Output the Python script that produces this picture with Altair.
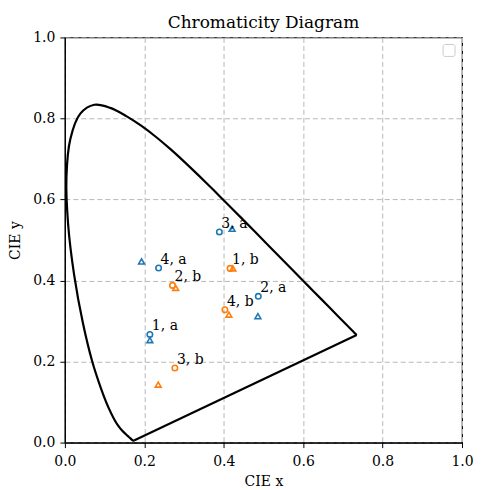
import altair as alt
import pandas as pd

# CIE 1931 spectral locus (380 nm ... 700 nm)
locus_x = [0.1741, 0.1738, 0.1733, 0.1726, 0.1714, 0.1689, 0.1644, 0.1566, 0.1440,
           0.1355, 0.1241, 0.1096, 0.0913, 0.0687, 0.0454, 0.0235, 0.0082, 0.0039,
           0.0139, 0.0389, 0.0743, 0.1142, 0.1547, 0.1929, 0.2296, 0.2658, 0.3016,
           0.3373, 0.3731, 0.4087, 0.4441, 0.4788, 0.5125, 0.5448, 0.5752, 0.6029,
           0.6270, 0.6658, 0.6915, 0.7079, 0.7190, 0.7260, 0.7300, 0.7334, 0.7347]
locus_y = [0.0050, 0.0049, 0.0048, 0.0048, 0.0051, 0.0069, 0.0109, 0.0177, 0.0297,
           0.0399, 0.0578, 0.0868, 0.1327, 0.2007, 0.2950, 0.4127, 0.5384, 0.6548,
           0.7502, 0.8120, 0.8338, 0.8262, 0.8059, 0.7816, 0.7543, 0.7243, 0.6923,
           0.6589, 0.6245, 0.5896, 0.5547, 0.5202, 0.4866, 0.4544, 0.4242, 0.3965,
           0.3725, 0.3340, 0.3083, 0.2920, 0.2809, 0.2740, 0.2700, 0.2666, 0.2653]
# purple line: 700 nm back to 380 nm
purple_x = [0.7347, 0.1741]
purple_y = [0.2653, 0.0050]

# series a (blue), series b (orange)
a_circle_x = [0.214, 0.487, 0.389, 0.236]
a_circle_y = [0.267, 0.361, 0.520, 0.431]
a_tri_x = [0.214, 0.486, 0.421, 0.193]
a_tri_y = [0.253, 0.312, 0.528, 0.447]
b_circle_x = [0.416, 0.271, 0.277, 0.403]
b_circle_y = [0.430, 0.388, 0.184, 0.328]
b_tri_x = [0.423, 0.279, 0.235, 0.413]
b_tri_y = [0.430, 0.382, 0.143, 0.316]
a_labels = ["1, a", "2, a", "3, a", "4, a"]
b_labels = ["1, b", "2, b", "3, b", "4, b"]
title_text = ["Chromaticity Diagram"]

ticks = [0.0, 0.2, 0.4, 0.6, 0.8, 1.0]
FONT = "DejaVu Serif"
BLUE = "#1f77b4"
ORANGE = "#ff7f0e"

locus = pd.DataFrame({"x": locus_x, "y": locus_y, "i": list(range(len(locus_x)))})
purple = pd.DataFrame({"x": purple_x, "y": purple_y, "i": [0, 1]})
circles = pd.DataFrame({
    "x": a_circle_x + b_circle_x,
    "y": a_circle_y + b_circle_y,
    "s": ["a"] * 4 + ["b"] * 4,
    "label": a_labels + b_labels,
})
tris = pd.DataFrame({
    "x": a_tri_x + b_tri_x,
    "y": a_tri_y + b_tri_y,
    "s": ["a"] * 4 + ["b"] * 4,
})

xs = alt.Scale(domain=[0, 1], nice=False, zero=False)
ys = alt.Scale(domain=[0, 1], nice=False, zero=False)
xax = alt.Axis(values=ticks, format=".1f", title="CIE x", labelPadding=7, titlePadding=6,
               labelFlush=False, labelOverlap=False)
yax = alt.Axis(values=ticks, format=".1f", title="CIE y", labelPadding=5, titlePadding=10,
               labelFlush=False, labelOverlap=False)
col = alt.Color("s:N", scale=alt.Scale(domain=["a", "b"], range=[BLUE, ORANGE]), legend=None)

line = alt.Chart(locus).mark_line(color="black", strokeWidth=2.2, interpolate="catmull-rom").encode(
    x=alt.X("x:Q", scale=xs, axis=xax),
    y=alt.Y("y:Q", scale=ys, axis=yax),
    order="i:Q",
)
pline = alt.Chart(purple).mark_line(color="black", strokeWidth=2.2).encode(
    x=alt.X("x:Q", scale=xs), y=alt.Y("y:Q", scale=ys), order="i:Q")

pts_c = alt.Chart(circles).mark_point(shape="circle", filled=False, size=30, strokeWidth=1.6, opacity=1).encode(
    x=alt.X("x:Q", scale=xs), y=alt.Y("y:Q", scale=ys), color=col)

pts_t = alt.Chart(tris).mark_point(shape="triangle-up", filled=False, size=34, strokeWidth=1.6, opacity=1).encode(
    x=alt.X("x:Q", scale=xs), y=alt.Y("y:Q", scale=ys), color=col)

labels = alt.Chart(circles).mark_text(
    font=FONT, fontSize=14, align="left", baseline="alphabetic", dx=2, dy=-4, color="black"
).encode(x=alt.X("x:Q", scale=xs), y=alt.Y("y:Q", scale=ys), text="label:N")

legend_box = alt.Chart(pd.DataFrame({"a": [0]})).mark_rect(
    fill="white", stroke="#cccccc", strokeWidth=1, cornerRadius=2
).encode(x=alt.value(379), x2=alt.value(391), y=alt.value(7), y2=alt.value(19))

title = alt.Chart(pd.DataFrame({"t": title_text})).mark_text(
    font=FONT, fontSize=17, align="center", baseline="alphabetic", color="black"
).encode(x=alt.value(199), y=alt.value(-9), text="t:N")

chart = alt.layer(line, pline, pts_c, pts_t, labels, legend_box, title).properties(
    width=398, height=406,
    autosize=alt.AutoSizeParams(type="none"),
    padding={"left": 57, "top": 29, "right": 13, "bottom": 46},
).configure_view(stroke="black", strokeWidth=1.2).configure_axis(
    labelFont=FONT, labelFontSize=14, labelColor="black",
    titleFont=FONT, titleFontSize=14, titleFontWeight="normal", titleColor="black",
    domainColor="black", domainWidth=1.2, tickColor="black", tickSize=5, tickWidth=1,
    grid=True, gridColor="#b8b8b8", gridDash=[5, 3], gridWidth=1,
)

chart.save("out.html", embed_options={"renderer": "svg", "actions": False})
